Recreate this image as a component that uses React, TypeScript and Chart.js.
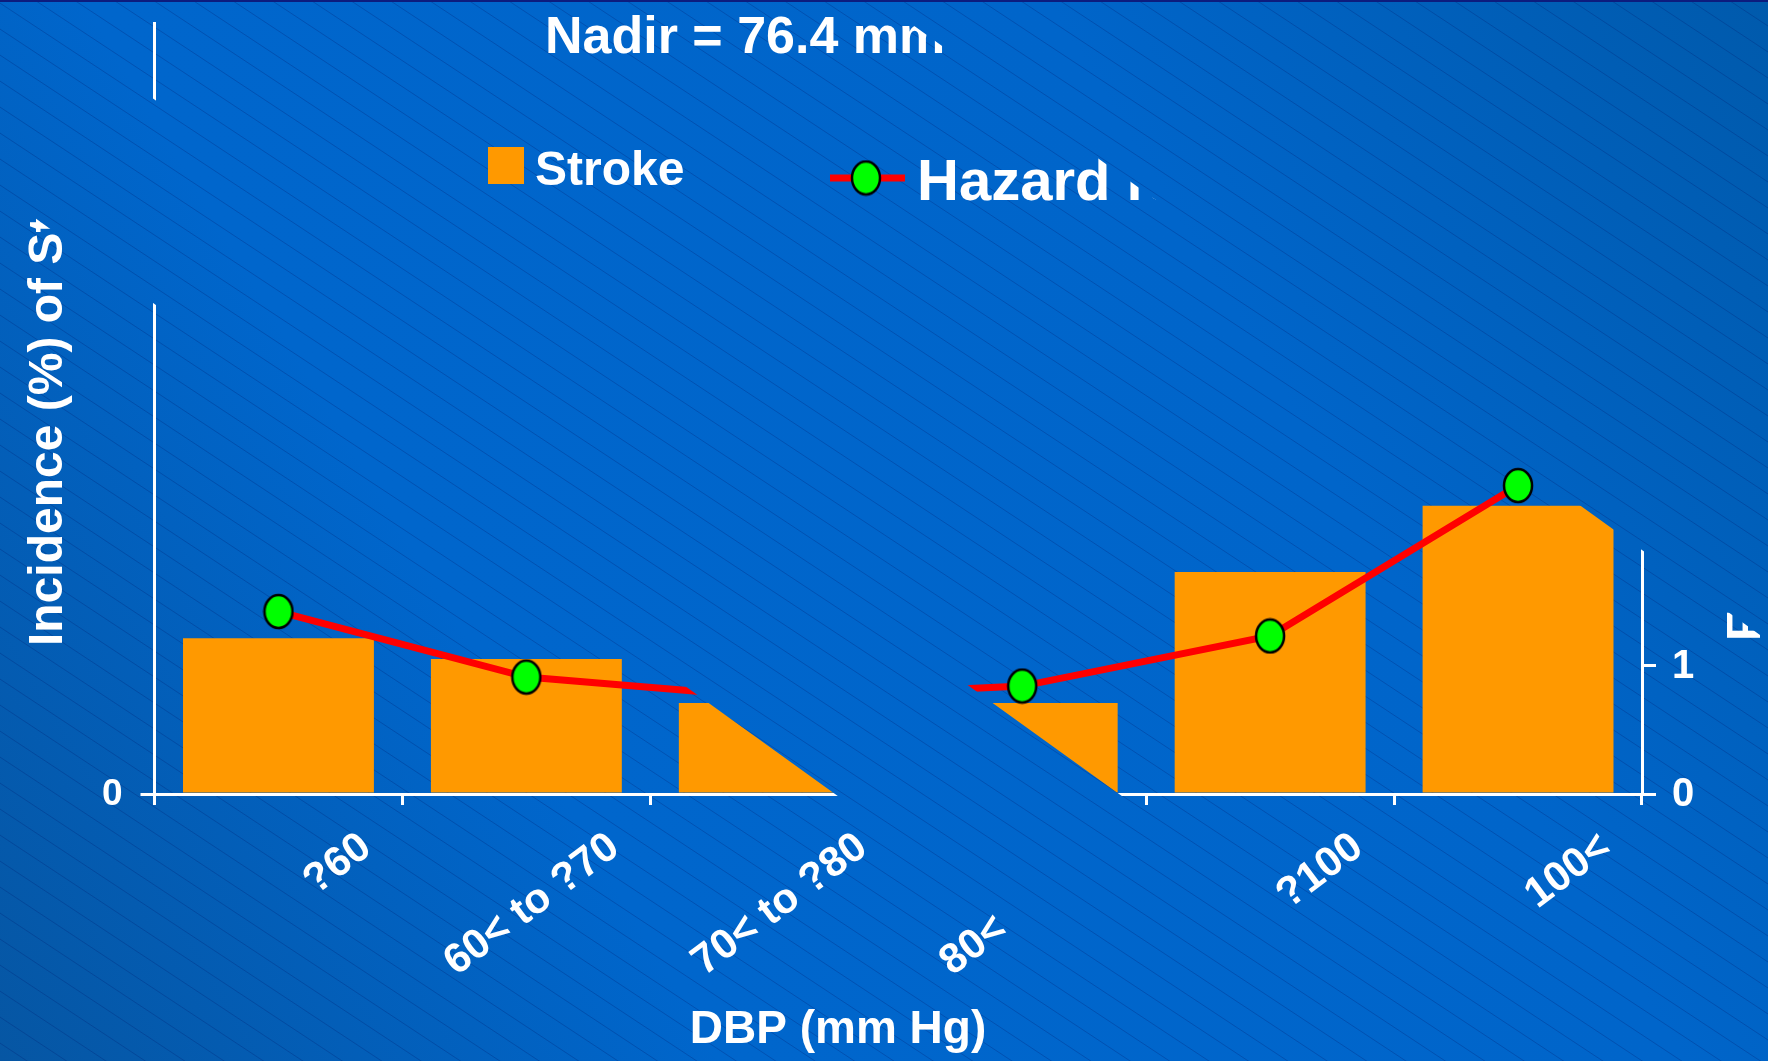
import React, { useEffect, useRef } from 'react';
import { Chart, registerables } from 'chart.js';

Chart.register(...registerables);

const W = 1768;
const H = 1061;

// DBP bands (category axis)
const dbpBands = ['?60', '60< to ?70', '70< to ?80', '80< to ?90', '90< to ?100', '100<'];
// Stroke incidence (%) per band (left axis)
const strokeIncidence = [2.02, 1.75, 1.18, 1.18, 2.88, 3.74];
// Hazard ratio per band (right axis)
const hazardRatio = [1.42, 0.91, 0.75, 0.84, 1.23, 2.4];
// Axis ranges / ticks
const incidenceTicks = [0];
const incidenceMax = 10;
const hazardTicks = [0, 1, 2, 3, 4, 5, 6];
const hazardMax = 6;

const chartTitle = 'Nadir = 76.4 mm Hg';
const yTitle = 'Incidence (%) of Stroke';
const y1Title = 'F';
const xTitle = 'DBP (mm Hg)';
const strokeLabel = 'Stroke';
const hazardLabel = 'Hazard ratio';

const FONT = '"Liberation Sans", Arial, Helvetica, sans-serif';
const ORANGE = '#FF9900';
const RED = '#FF0000';

// damaged diagonal streaks of the slide: edges run at this slope
const SLOPE = 0.72;
const EDGE_C1 = 835; // x where each edge meets the baseline
const EDGE_C2 = 1119;
const EDGE_A = 1981;

function makeMarker(): HTMLCanvasElement {
  const c = document.createElement('canvas');
  c.width = 32;
  c.height = 37;
  const g = c.getContext('2d')!;
  g.beginPath();
  g.ellipse(c.width / 2, c.height / 2, 14, 16.5, 0, 0, Math.PI * 2);
  g.fillStyle = '#00FF00';
  g.fill();
  g.lineWidth = 2.5;
  g.strokeStyle = '#000000';
  g.stroke();
  return c;
}

function paintBackdrop(ctx: CanvasRenderingContext2D) {
  const g = ctx.createLinearGradient(W, 0, 0, H);
  g.addColorStop(0, '#005AAC');
  g.addColorStop(0.3, '#0065CA');
  g.addColorStop(0.7, '#0066CC');
  g.addColorStop(1, '#0656A3');
  ctx.fillStyle = g;
  ctx.fillRect(0, 0, W, H);
  ctx.strokeStyle = 'rgba(0, 30, 110, 0.28)';
  ctx.lineWidth = 1;
  ctx.beginPath();
  const s = 0.66;
  for (let c = -s * W; c < H; c += 26) {
    ctx.moveTo(0, c);
    ctx.lineTo(W, c + s * W);
  }
  ctx.stroke();
}

function slideOverlay(marker: HTMLCanvasElement) {
  return {
    id: 'slideOverlay',
    beforeDraw(chart: any) {
      const ctx: CanvasRenderingContext2D = chart.ctx;
      ctx.save();
      paintBackdrop(ctx);
      ctx.restore();
    },
    afterDraw(chart: any) {
      const ctx: CanvasRenderingContext2D = chart.ctx;
      const { chartArea, scales } = chart;
      ctx.save();
      ctx.fillStyle = '#FFFFFF';
      ctx.textBaseline = 'alphabetic';
      ctx.textAlign = 'left';

      // title
      ctx.font = `bold 52px ${FONT}`;
      ctx.fillText(chartTitle, 545, 53);

      // legend
      ctx.fillStyle = ORANGE;
      ctx.fillRect(488, 147, 36, 37);
      ctx.fillStyle = '#FFFFFF';
      ctx.font = `bold 48px ${FONT}`;
      ctx.fillText(strokeLabel, 535, 185);
      ctx.strokeStyle = RED;
      ctx.lineWidth = 7;
      ctx.beginPath();
      ctx.moveTo(830, 178);
      ctx.lineTo(905, 178);
      ctx.stroke();
      ctx.drawImage(marker, 866 - marker.width / 2, 178 - marker.height / 2);
      ctx.font = `bold 58px ${FONT}`;
      ctx.fillText(hazardLabel, 917, 200);

      // value-axis tick labels
      ctx.textBaseline = 'middle';
      ctx.textAlign = 'right';
      ctx.font = `bold 37px ${FONT}`;
      incidenceTicks.forEach((v) => {
        ctx.fillText(String(v), chartArea.left - 32, scales.y.getPixelForValue(v) + 1);
      });
      ctx.textAlign = 'left';
      ctx.font = `bold 40px ${FONT}`;
      hazardTicks.forEach((v) => {
        ctx.fillText(String(v), chartArea.right + 30, scales.y1.getPixelForValue(v) + 1);
      });

      // category labels, slanted
      ctx.textBaseline = 'alphabetic';
      ctx.font = `bold 42px ${FONT}`;
      ctx.textAlign = 'right';
      dbpBands.forEach((lab, i) => {
        const cx = scales.x.getPixelForValue(i);
        ctx.save();
        ctx.translate(cx + 77, chartArea.bottom + 34);
        ctx.rotate((-37 * Math.PI) / 180);
        ctx.fillText(lab, 0, 30);
        ctx.restore();
      });

      // axis titles
      ctx.textAlign = 'left';
      ctx.font = `bold 48px ${FONT}`;
      ctx.save();
      ctx.translate(62, 646);
      ctx.rotate(-Math.PI / 2);
      ctx.fillText(yTitle, 0, 0);
      ctx.restore();

      ctx.font = `bold 49px ${FONT}`;
      ctx.save();
      ctx.translate(1760, 641);
      ctx.rotate(-Math.PI / 2);
      ctx.fillText(y1Title, 0, 0);
      ctx.restore();

      ctx.textAlign = 'center';
      ctx.font = `bold 46px ${FONT}`;
      ctx.fillText(xTitle, 838, 1043);
      ctx.restore();

      // damaged streaks: background shows through
      const base = chartArea.bottom;
      const ex = (x0: number, y: number) => x0 + (y - base) / SLOPE;
      const y0 = -10;
      const y1 = H + 10;
      ctx.save();
      ctx.beginPath();
      ctx.moveTo(ex(EDGE_C1, y0), y0);
      ctx.lineTo(ex(EDGE_C2, y0), y0);
      ctx.lineTo(ex(EDGE_C2, y1), y1);
      ctx.lineTo(ex(EDGE_C1, y1), y1);
      ctx.closePath();
      ctx.moveTo(ex(EDGE_A, y0), y0);
      ctx.lineTo(W + 10, y0);
      ctx.lineTo(W + 10, y1);
      ctx.lineTo(ex(EDGE_A, y1), y1);
      ctx.closePath();
      ctx.clip();
      paintBackdrop(ctx);
      ctx.restore();

      // top rule
      ctx.save();
      ctx.fillStyle = '#0C1C7E';
      ctx.fillRect(0, 0, W, 2);
      ctx.restore();
    },
  };
}

export default function App() {
  const ref = useRef<HTMLCanvasElement>(null);

  useEffect(() => {
    const canvas = ref.current;
    if (!canvas) return;
    const marker = makeMarker();
    const zeroFit = (s: any) => {
      if (s.isHorizontal()) s.height = 0;
      else s.width = 0;
    };
    const tickGrid = (len: number) => ({
      drawOnChartArea: false,
      drawTicks: true,
      tickLength: len,
      color: '#FFFFFF',
      lineWidth: 3,
    });
    const chart = new Chart(canvas, {
      type: 'bar',
      data: {
        labels: dbpBands,
        datasets: [
          {
            type: 'line',
            label: hazardLabel,
            data: hazardRatio,
            yAxisID: 'y1',
            borderColor: RED,
            borderWidth: 7,
            tension: 0,
            pointStyle: marker as any,
            pointRadius: 16,
            order: 0,
          } as any,
          {
            type: 'bar',
            label: strokeLabel,
            data: strokeIncidence,
            yAxisID: 'y',
            backgroundColor: ORANGE,
            borderWidth: 0,
            barPercentage: 0.77,
            categoryPercentage: 1,
            order: 1,
          },
        ],
      },
      options: {
        responsive: false,
        animation: false,
        devicePixelRatio: 1,
        layout: { padding: { left: 154.5, right: 126, top: 18, bottom: 267 } },
        plugins: { legend: { display: false }, tooltip: { enabled: false } },
        scales: {
          x: {
            type: 'category',
            offset: true,
            afterFit: zeroFit,
            grid: { ...tickGrid(11), offset: true },
            border: { display: true, color: '#FFFFFF', width: 3 },
            ticks: { display: false },
          },
          y: {
            type: 'linear',
            position: 'left',
            min: 0,
            max: incidenceMax,
            afterFit: zeroFit,
            afterBuildTicks: (s: any) => {
              s.ticks = incidenceTicks.map((v) => ({ value: v }));
            },
            grid: tickGrid(14),
            border: { display: true, color: '#FFFFFF', width: 3 },
            ticks: { display: false },
          },
          y1: {
            type: 'linear',
            position: 'right',
            min: 0,
            max: hazardMax,
            afterFit: zeroFit,
            afterBuildTicks: (s: any) => {
              s.ticks = hazardTicks.map((v) => ({ value: v }));
            },
            grid: tickGrid(14),
            border: { display: true, color: '#FFFFFF', width: 3 },
            ticks: { display: false },
          },
        },
      },
      plugins: [slideOverlay(marker)],
    } as any);
    return () => chart.destroy();
  }, []);

  return (
    <div style={{ position: 'fixed', left: 0, top: 0, width: W, height: H }}>
      <canvas ref={ref} width={W} height={H} style={{ display: 'block', width: W, height: H }} />
    </div>
  );
}
